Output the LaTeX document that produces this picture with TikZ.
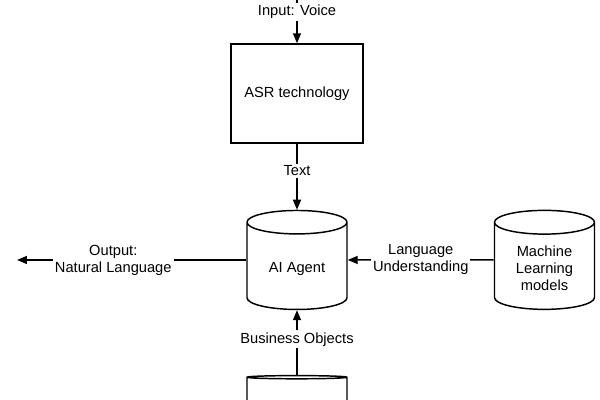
\documentclass[tikz,border=0pt]{standalone}
\usepackage{fontspec}
\setmainfont{Liberation Sans}
\usetikzlibrary{arrows.meta,positioning,shapes.geometric}

\begin{document}
\begin{tikzpicture}[
  font=\fontsize{11}{12.75}\selectfont,
  node distance=49.5pt and 109.5pt,
  box/.style={draw, line width=1.1pt, minimum width=99pt, minimum height=74.25pt},
  store/.style={draw, line width=1.1pt, cylinder, shape border rotate=90, aspect=0.36,
    minimum width=75pt, minimum height=74.25pt, align=center},
  lbl/.style={fill=white, align=center, inner sep=1.5pt},
  arrow/.style={line width=1.1pt, -{Triangle[length=7.5pt,width=6pt]}}
]
\useasboundingbox (-222.75pt,-229.875pt) rectangle (227.25pt,70.125pt);

\node[box] (asr) {ASR technology};
\node[store, below=of asr] (agent) {AI Agent};
\node[store, right=of agent] (ml) {Machine\\Learning\\models};
\node[store, below=48.5pt of agent] (db) {};

\coordinate[above=36.75pt of asr] (in);
\coordinate[left=210pt of agent.shape center] (out);

\draw[arrow] (in) -- node[lbl, pos=0.36] (voice) {Input: Voice} (asr);
\draw[arrow] (asr) -- node[lbl, pos=0.41] (text) {Text} (agent);
\draw[arrow] (agent.shape center -| agent.west) -- node[lbl, pos=0.58] (nl) {Output:\\Natural Language} (out);
\draw[arrow] (ml.shape center -| ml.west) -- node[lbl, pos=0.5] (lu) {Language\\Understanding} (agent.shape center -| agent.east);
\draw[arrow] (db) -- node[lbl, pos=0.55] (bo) {Business Objects} (agent);
\end{tikzpicture}
\end{document}
